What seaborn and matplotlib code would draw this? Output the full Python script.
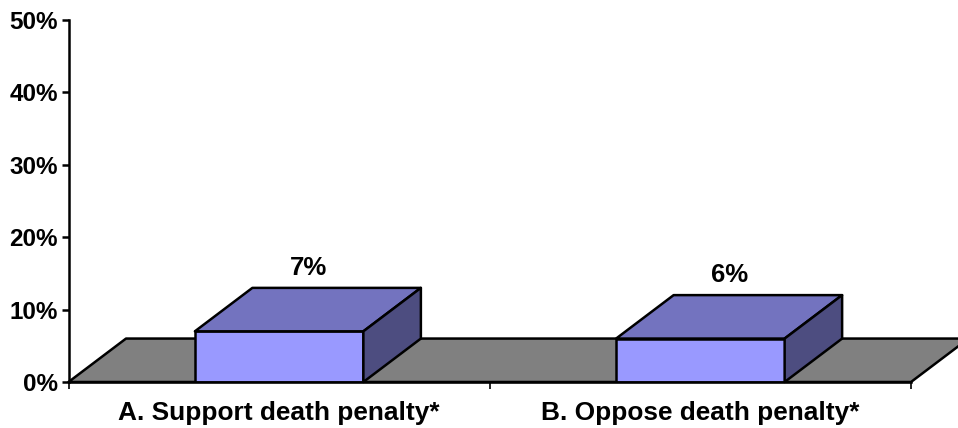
import matplotlib
matplotlib.use("Agg")
import matplotlib.pyplot as plt
from matplotlib.patches import Polygon
import pandas as pd
import seaborn as sns

categories = ["A. Support death penalty*", "B. Oppose death penalty*"]
values = [7, 6]
y_ticks = [0, 10, 20, 30, 40, 50]

# colores de las caras
FRONT = "#9999FF"
TOP = "#7373BF"
SIDE = "#4D4D80"
FLOOR = "#808080"

# profundidad del falso 3D, en unidades de datos
DEPTH_X = 0.1365
DEPTH_Y = 6.0
LW = 1.8

sns.set_style("white")
plt.rcParams["font.family"] = ["Liberation Sans", "DejaVu Sans"]
plt.rcParams["font.weight"] = "bold"
plt.rcParams["text.color"] = "black"
plt.rcParams["xtick.color"] = "black"
plt.rcParams["ytick.color"] = "black"

df = pd.DataFrame({"category": categories, "value": values})

fig = plt.figure(figsize=(9.58, 4.28), dpi=100)
ax = fig.add_axes([68.5 / 958, 46 / 428, 842.5 / 958, 362 / 428])

sns.barplot(data=df, x="category", y="value", color=FRONT, saturation=1,
            width=0.4, edgecolor="black", linewidth=LW, zorder=3, ax=ax)
ax.set_xlim(-0.5, 1.5)
ax.set_ylim(0, 50)

# suelo gris
x0, x1 = ax.get_xlim()
floor = Polygon([(x0, 0), (x1, 0), (x1 + DEPTH_X, DEPTH_Y), (x0 + DEPTH_X, DEPTH_Y)],
                closed=True, facecolor=FLOOR, edgecolor="black", linewidth=LW,
                joinstyle="round", clip_on=False, zorder=1)
ax.add_patch(floor)

# caras superior y lateral de cada barra
for bar, val in zip(ax.patches[:len(values)], values):
    left = bar.get_x()
    right = left + bar.get_width()
    h = bar.get_height()
    top = Polygon([(left, h), (right, h), (right + DEPTH_X, h + DEPTH_Y), (left + DEPTH_X, h + DEPTH_Y)],
                  closed=True, facecolor=TOP, edgecolor="black", linewidth=LW,
                  joinstyle="round", clip_on=False, zorder=3)
    side = Polygon([(right, 0), (right + DEPTH_X, DEPTH_Y), (right + DEPTH_X, h + DEPTH_Y), (right, h)],
                   closed=True, facecolor=SIDE, edgecolor="black", linewidth=LW,
                   joinstyle="round", clip_on=False, zorder=3)
    ax.add_patch(top)
    ax.add_patch(side)
    ax.annotate(f"{val}%", (left + bar.get_width() / 2 + DEPTH_X / 2 + 0.002, h + DEPTH_Y),
                xytext=(0, 20), textcoords="offset pixels", ha="center", va="center",
                fontsize=18.5, fontweight="bold", color="black", zorder=5)

# ejes
ax.set_xlabel("")
ax.set_ylabel("")
ax.set_yticks(y_ticks)
ax.set_yticklabels([f"{t}%" for t in y_ticks], fontsize=17.5, fontweight="bold")
ax.set_xticks([-0.5, 0.5, 1.5])
ax.set_xticklabels(["", "", ""])
ax.set_xticks([0, 1], labels=categories, minor=True)
ax.tick_params(axis="y", which="major", left=True, length=5, width=LW, direction="out", pad=2.5)
ax.tick_params(axis="x", which="major", bottom=True, length=5, width=1.2, direction="out")
ax.tick_params(axis="x", which="minor", bottom=False, length=0, pad=14, labelsize=18.9)
for lab in ax.get_xticklabels(minor=True):
    lab.set_fontweight("bold")

sns.despine(ax=ax, top=True, right=True)
ax.spines["left"].set_linewidth(LW)
ax.spines["bottom"].set_linewidth(LW)
ax.spines["left"].set_color("black")
ax.spines["bottom"].set_color("black")
ax.spines["left"].set_zorder(6)
ax.spines["bottom"].set_zorder(6)

fig.savefig("out.png", dpi=100)
